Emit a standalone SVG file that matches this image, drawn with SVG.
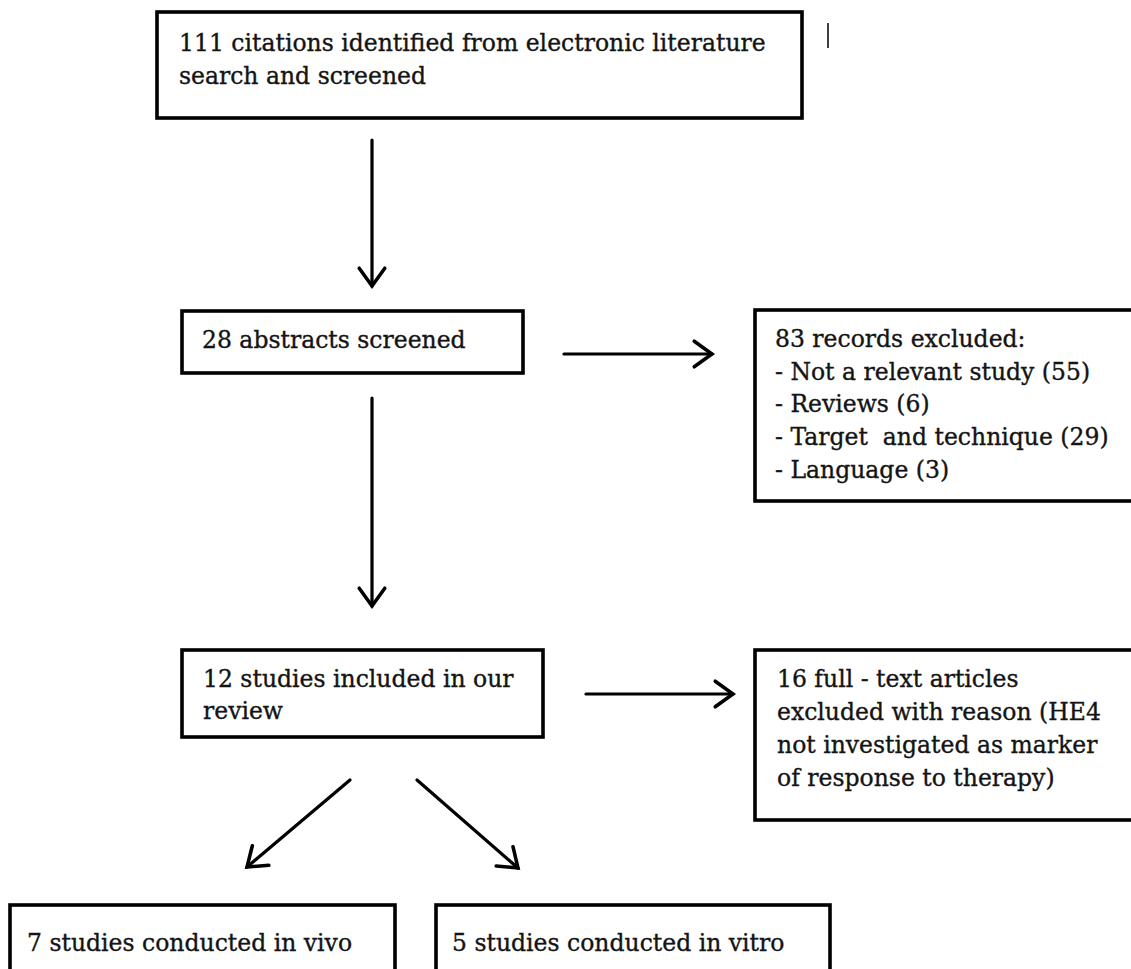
<svg xmlns="http://www.w3.org/2000/svg" width="1131" height="969" viewBox="0 0 1131 969">
<style>
.box{fill:#fff;stroke:#000;stroke-width:3.6}
.t{font-family:"DejaVu Serif","Liberation Serif",serif;font-size:23.5px;fill:#141414;stroke:#141414;stroke-width:0.35;white-space:pre}
.c{stroke:#000;stroke-width:3.2;fill:none;stroke-linecap:round}
</style>
<defs>
<marker id="ah" markerUnits="userSpaceOnUse" markerWidth="40" markerHeight="40" viewBox="-22 -18 27 36" refX="0" refY="0" orient="auto">
<path d="M-16,-11.5 L0,0 L-16,11.5" fill="none" stroke="#000" stroke-width="3.2" stroke-linecap="round" stroke-linejoin="miter"/>
</marker>
</defs>
<rect width="1131" height="969" fill="#fff"/>
<g id="connectors">
<line class="c" x1="372" y1="140" x2="372" y2="286" marker-end="url(#ah)"/>
<line class="c" x1="564" y1="354" x2="712" y2="354" marker-end="url(#ah)"/>
<line class="c" x1="372" y1="398" x2="372" y2="606" marker-end="url(#ah)"/>
<line class="c" x1="586" y1="694" x2="733" y2="694" marker-end="url(#ah)"/>
<line class="c" x1="350" y1="780" x2="247" y2="867" marker-end="url(#ah)"/>
<line class="c" x1="417" y1="780" x2="518" y2="868" marker-end="url(#ah)"/>
</g>
<g id="n1">
<rect class="box" x="157" y="12" width="645" height="106"/>
<text class="t" x="179" y="51">111 citations identified from electronic literature</text>
<text class="t" x="179" y="84">search and screened</text>
</g>
<g id="mark">
<line x1="828" y1="23" x2="828" y2="48" stroke="#000" stroke-width="1.5"/>
</g>
<g id="n2">
<rect class="box" x="182" y="311" width="341" height="62"/>
<text class="t" x="202" y="348">28 abstracts screened</text>
</g>
<g id="n3">
<rect class="box" x="755" y="310" width="400" height="191"/>
<text class="t" x="775" y="347">83 records excluded:</text>
<text class="t" x="775" y="380">- Not a relevant study (55)</text>
<text class="t" x="775" y="412">- Reviews (6)</text>
<text class="t" x="775" y="445">- Target  and technique (29)</text>
<text class="t" x="775" y="478">- Language (3)</text>
</g>
<g id="n4">
<rect class="box" x="182" y="650" width="361" height="87"/>
<text class="t" x="203" y="687">12 studies included in our</text>
<text class="t" x="203" y="719">review</text>
</g>
<g id="n5">
<rect class="box" x="755" y="650" width="400" height="170"/>
<text class="t" x="777" y="687">16 full - text articles</text>
<text class="t" x="777" y="720">excluded with reason (HE4</text>
<text class="t" x="777" y="753">not investigated as marker</text>
<text class="t" x="777" y="786">of response to therapy)</text>
</g>
<g id="n6">
<rect class="box" x="10" y="905" width="385" height="80"/>
<text class="t" x="27" y="951">7 studies conducted in vivo</text>
</g>
<g id="n7">
<rect class="box" x="436" y="905" width="394" height="80"/>
<text class="t" x="452" y="951">5 studies conducted in vitro</text>
</g>
</svg>
